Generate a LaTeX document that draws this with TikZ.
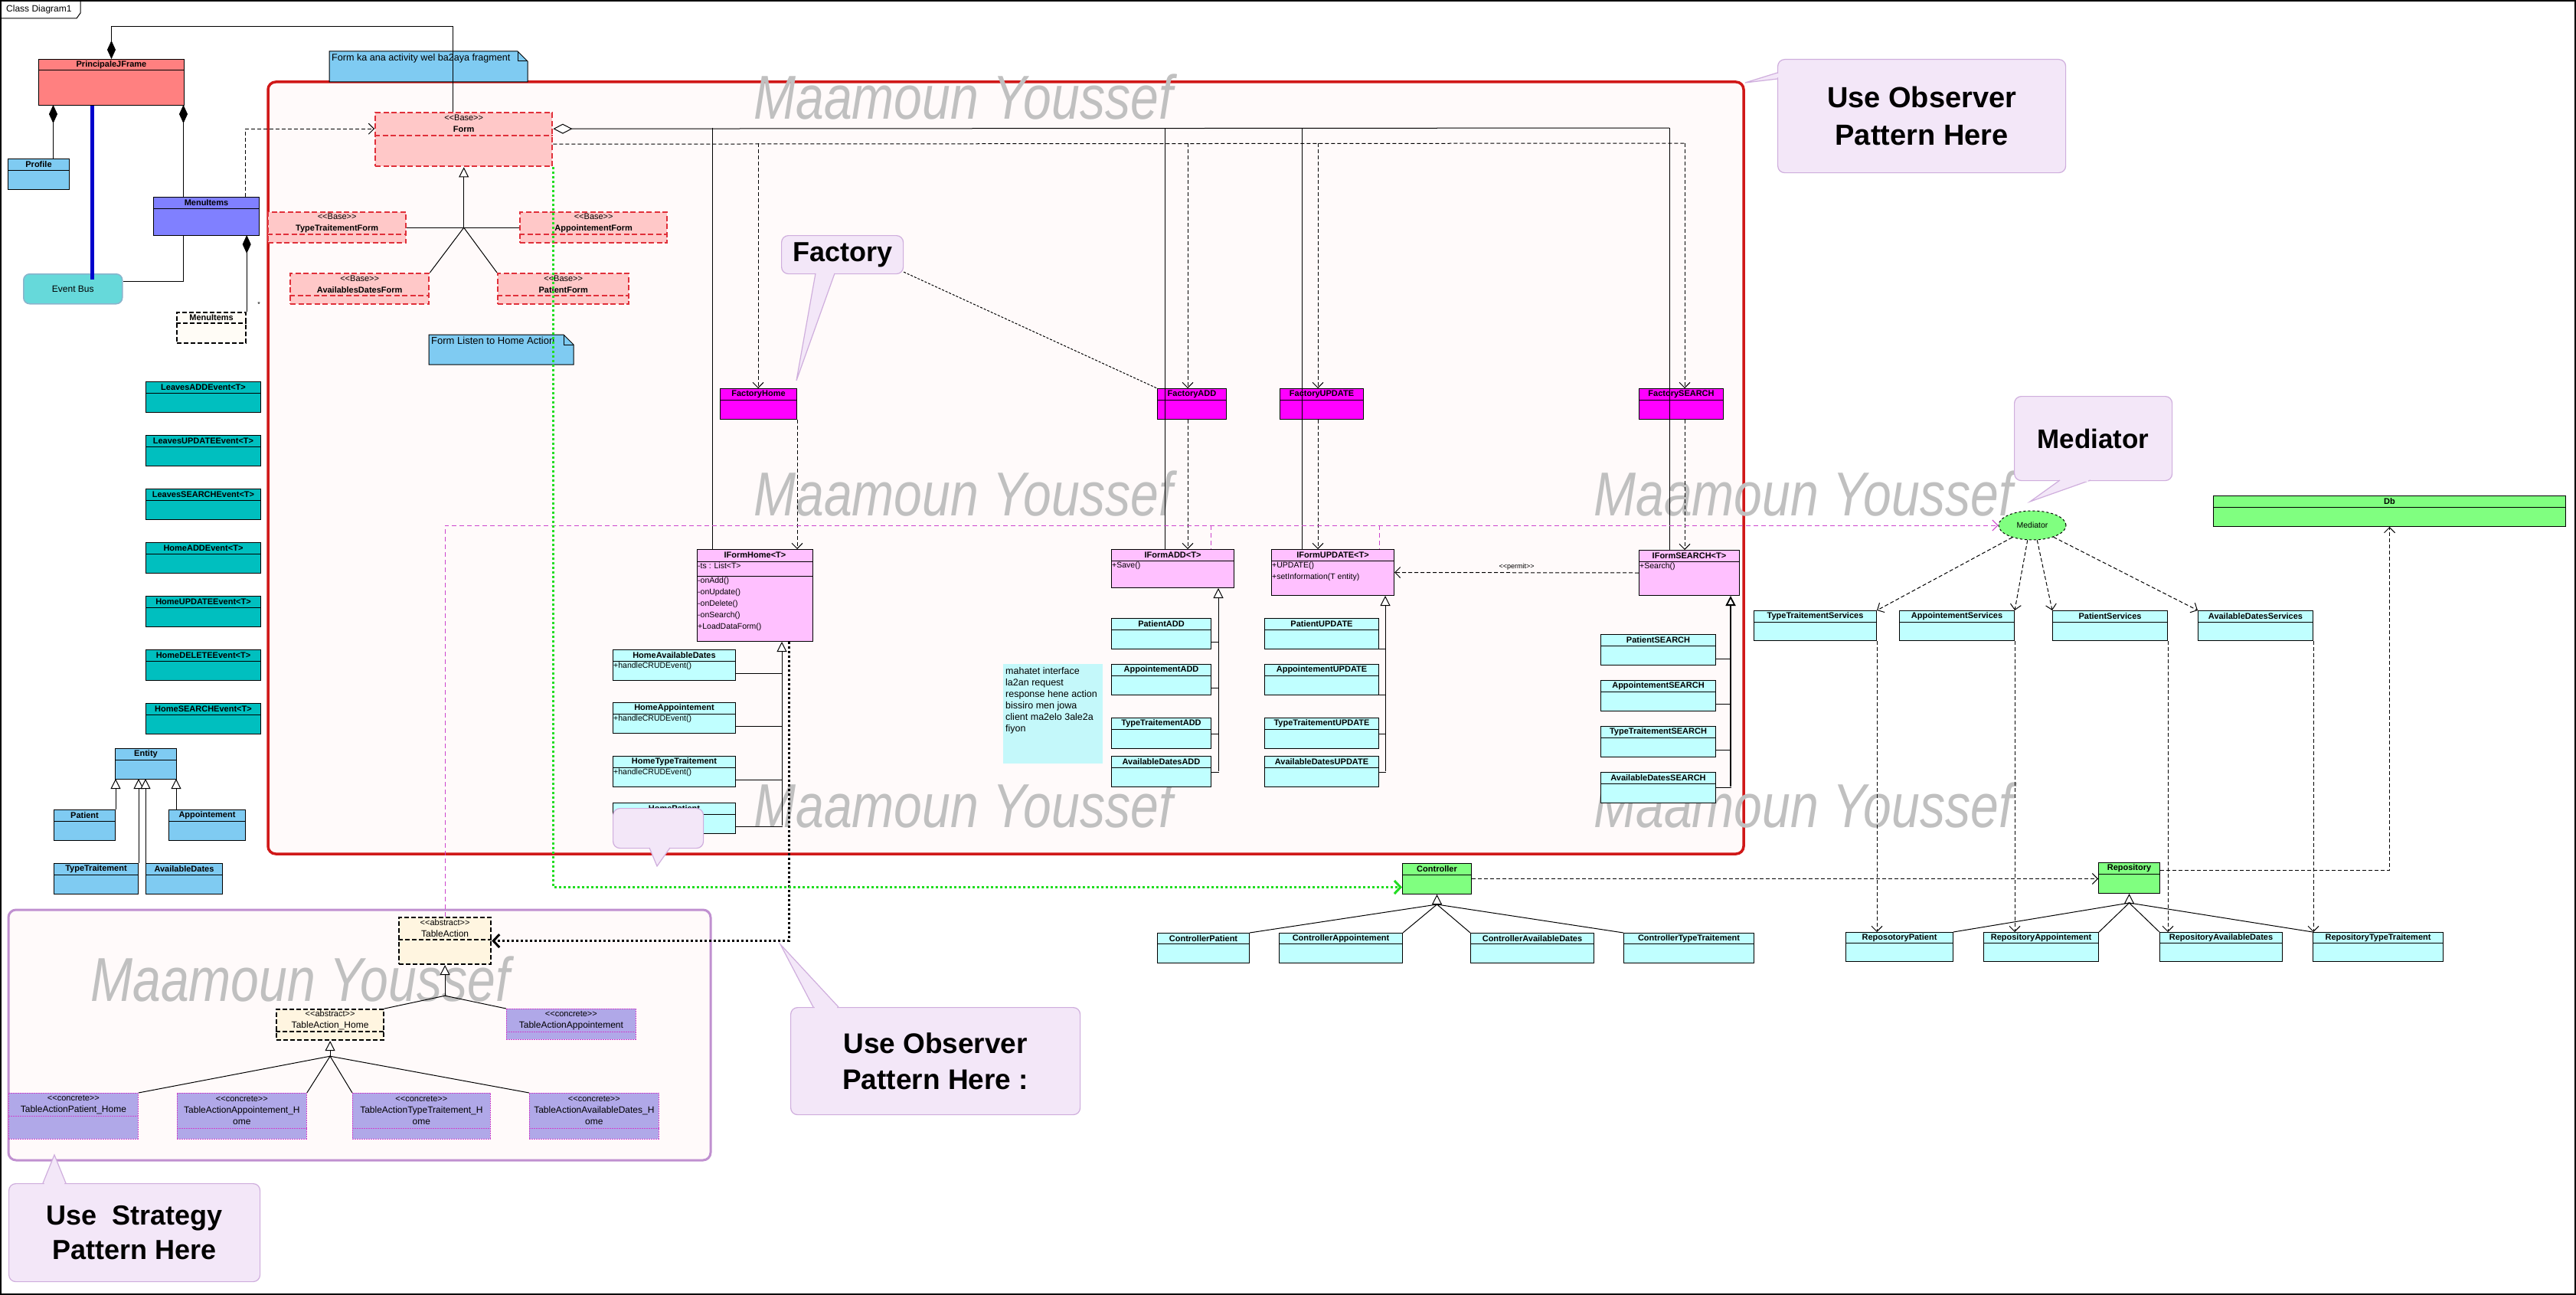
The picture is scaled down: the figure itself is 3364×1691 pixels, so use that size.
\documentclass[tikz,border=0pt]{standalone}
\usepackage{fontspec}
\usepackage{graphicx}
\setmainfont{Liberation Sans}
\usetikzlibrary{arrows.meta}
\usetikzlibrary{shapes.geometric}

\definecolor{pjfred}{HTML}{FF8080}
\definecolor{entblue}{HTML}{7FCBF2}
\definecolor{menublue}{HTML}{8080FF}
\definecolor{busfill}{HTML}{66D9DA}
\definecolor{busborder}{HTML}{8AB4CC}
\definecolor{busblue}{HTML}{0000CC}
\definecolor{evteal}{HTML}{00BFBF}
\definecolor{formpink}{HTML}{FFC8C8}
\definecolor{formred}{HTML}{E0303A}
\definecolor{areared}{HTML}{D01818}
\definecolor{arealilac}{HTML}{C090D0}
\definecolor{areabg}{HTML}{FFFAFA}
\definecolor{factmag}{HTML}{FF00FF}
\definecolor{ipink}{HTML}{FFC0FF}
\definecolor{pcyan}{HTML}{C0FFFF}
\definecolor{notecyan}{HTML}{C4F8FA}
\definecolor{dbgreen}{HTML}{80FF80}
\definecolor{medmag}{HTML}{CC44CC}
\definecolor{dotgreen}{HTML}{22DD22}
\definecolor{abscream}{HTML}{FFF5E0}
\definecolor{conclav}{HTML}{B0A8E8}
\definecolor{concline}{HTML}{CC44CC}
\definecolor{callfill}{HTML}{F3E7F8}
\definecolor{callline}{HTML}{CFAEDD}
\definecolor{wmgray}{HTML}{C0C0C0}
\definecolor{menuwhite}{HTML}{FFFCF6}

\newcommand{\fs}[2]{\fontsize{#1}{#2}\selectfont}
\newcommand{\stereo}[1]{\mdseries\fs{11}{15}<{}<#1>{}>}
\newcommand{\plain}{\mdseries\fs{12}{15}}

\tikzstyle{cls}=[draw, line width=1pt, inner sep=0pt]
\tikzstyle{clsred}=[cls, fill=pjfred]
\tikzstyle{clsblue}=[cls, fill=entblue]
\tikzstyle{clsmenu}=[cls, fill=menublue]
\tikzstyle{clsdash}=[cls, fill=menuwhite, line width=2.2pt, dash pattern=on 6pt off 3pt]
\tikzstyle{clsevent}=[cls, fill=evteal]
\tikzstyle{clsform}=[cls, draw=formred, fill=formpink, line width=2.4pt, dash pattern=on 7pt off 3.5pt]
\tikzstyle{clsmag}=[cls, fill=factmag]
\tikzstyle{clspink}=[cls, fill=ipink]
\tikzstyle{clscyan}=[cls, fill=pcyan]
\tikzstyle{clsgreen}=[cls, fill=dbgreen]
\tikzstyle{clsabs}=[cls, fill=abscream, line width=2.2pt, dash pattern=on 6pt off 3pt]
\tikzstyle{clsconc}=[cls, draw=concline, fill=conclav, line width=0.8pt, dash pattern=on 2pt off 1pt]
\tikzstyle{classname}=[inner sep=0pt, align=center, font=\bfseries\fs{11}{15}]
\tikzstyle{members}=[inner sep=1pt, anchor=north west, align=left, font=\fs{10.5}{15}]
\tikzstyle{notebox}=[draw, line width=1pt, fill=entblue]
\tikzstyle{notetext}=[inner sep=0pt, anchor=north west, align=left, font=\fs{13}{15}]
\tikzstyle{watermark}=[inner sep=0pt, anchor=base, text=wmgray, font=\itshape\fs{81}{81}]
\tikzstyle{callout}=[draw=callline, fill=callfill, line width=1.2pt, rounded corners=9pt, inner sep=0pt, anchor=north west, align=center, font=\bfseries\fs{38}{49}]
\tikzstyle{callptr}=[draw=callline, fill=callfill, line width=1.2pt]
\tikzstyle{link}=[line width=1pt]
\tikzstyle{compo}=[link, -{Diamond[length=24pt,width=11pt]}]
\tikzstyle{aggr}=[link, -{Diamond[open,fill=white,length=25pt,width=13pt]}]
\tikzstyle{dashlink}=[link, dash pattern=on 5pt off 3pt]
\tikzstyle{dep}=[dashlink, -{Straight Barb[length=7pt,width=14pt]}]
\tikzstyle{gen}=[link, -{Triangle[length=13pt,width=13pt,fill=white]}]
\tikzstyle{medline}=[link, draw=medmag, dash pattern=on 6pt off 4pt]
\tikzstyle{meddep}=[medline, -{Straight Barb[length=7pt,width=14pt]}]
\tikzstyle{evline}=[line width=5pt, draw=busblue]
\tikzstyle{greendot}=[line width=3pt, draw=dotgreen, dash pattern=on 3pt off 3pt, -{Straight Barb[length=8pt,width=17pt,line width=3pt]}]
\tikzstyle{blackdot}=[line width=3pt, dash pattern=on 3pt off 3pt, -{Straight Barb[length=8pt,width=17pt,line width=3pt]}]

% class box: [header height] style, name, north west corner, width, height, title
\newcommand{\umlbox}[7][15]{%
  \node[#2, anchor=north west, minimum width=#5pt, minimum height=#6pt] (#3) at #4 {};
  \draw[#2, fill=none] ([yshift=-#1pt]#3.north west) -- ([yshift=-#1pt]#3.north east);
  \node[classname, minimum height=#1pt, anchor=north] (#3-name) at (#3.north) {#7};
}

\begin{document}
\begin{tikzpicture}[x=1pt, y=-1pt]
\useasboundingbox (0,0) rectangle (3364,1691);
\fill[white] (0,0) rectangle (3364,1691);
% diagram frame
\draw[line width=1.5pt] (1,1) rectangle (3363,1690);
\draw[link] (1,24) -- (100,24) -- (105,17) -- (105,1);
\node[inner sep=0pt, anchor=west, font=\fs{12}{14}] (frametitle) at (8,12) {Class Diagram1};

% package areas
\draw[line width=3.5pt, draw=areared, fill=areabg, rounded corners=10pt] (350,107) rectangle (2277,1115);
\draw[line width=3pt, draw=arealilac, fill=areabg, rounded corners=10pt] (11,1188) rectangle (928,1515);

% watermarks
\foreach \wx/\wy [count=\i] in {1258/155, 1258/673, 2355/673, 1258/1080, 2355/1080, 392/1307}
  \node[watermark] (wm\i) at (\wx,\wy) {\scalebox{0.816}[1]{Maamoun Youssef}};

% notes
\draw[notebox] (430,67) -- (676,67) -- (689,80) -- (689,107) -- (430,107) -- cycle;
\draw[link] (676,67) -- (676,80) -- (689,80);
\node[notetext, font=\fs{12.6}{15}] (note1) at (433,70) {Form ka ana activity wel ba2aya fragment};
\draw[notebox] (560,437) -- (736,437) -- (749,450) -- (749,476) -- (560,476) -- cycle;
\draw[link] (736,437) -- (736,450) -- (749,450);
\node[notetext] (note2) at (563,440) {Form Listen to Home Action};
\node[fill=notecyan, inner sep=0pt, anchor=north west, minimum width=130pt, minimum height=130pt] (note3) at (1310,867) {};
\node[notetext, font=\fs{12.5}{15}] (note3text) at (1313,871) {mahatet interface\\la2an request\\response hene action\\bissiro men jowa\\client ma2elo 3ale2a\\fiyon};

% left side
\umlbox{clsred}{pjf}{(50,77)}{190}{60}{PrincipaleJFrame}
\umlbox{clsblue}{profile}{(10,207)}{80}{40}{Profile}
\umlbox{clsmenu}{menu}{(200,257)}{138}{50}{MenuItems}
\umlbox{clsdash}{menusub}{(230,407)}{90}{40}{MenuItems}
\node[draw=busborder, fill=busfill, line width=1.5pt, rounded corners=8pt, anchor=north west,
      minimum width=129pt, minimum height=39pt, font=\fs{12}{14}] (evbus) at (30,357) {Event Bus};
\node[inner sep=0pt, font=\fs{9}{10}] (mult) at (338,397) {*};
\foreach \ev [count=\i from 0] in {LeavesADDEvent, LeavesUPDATEEvent, LeavesSEARCHEvent, HomeADDEvent, HomeUPDATEEvent, HomeDELETEEvent, HomeSEARCHEvent} {
  \umlbox{clsevent}{ev\i}{(190,{498+70*\i})}{150}{40}{\ev<T>}
}
\umlbox{clsblue}{entity}{(150,977)}{80}{40}{Entity}
\umlbox{clsblue}{patient}{(70,1057)}{80}{40}{Patient}
\umlbox{clsblue}{appoint}{(220,1057)}{100}{40}{Appointement}
\umlbox{clsblue}{typetr}{(70,1127)}{110}{40}{TypeTraitement}
\umlbox{clsblue}{avdates}{(190,1127)}{100}{40}{AvailableDates}

% forms
\umlbox[31]{clsform}{form}{(489,146)}{231}{70}{\stereo{Base}\\Form}
\umlbox[30]{clsform}{ttform}{(349,276)}{180}{40}{\stereo{Base}\\TypeTraitementForm}
\umlbox[30]{clsform}{apform}{(678,276)}{192}{40}{\stereo{Base}\\AppointementForm}
\umlbox[30]{clsform}{adform}{(378,356)}{181}{40}{\stereo{Base}\\AvailablesDatesForm}
\umlbox[30]{clsform}{paform}{(649,356)}{171}{40}{\stereo{Base}\\PatientForm}

% factories
\umlbox{clsmag}{fhome}{(940,507)}{100}{40}{FactoryHome}
\umlbox{clsmag}{fadd}{(1511,507)}{90}{40}{FactoryADD}
\umlbox{clsmag}{fupd}{(1671,507)}{109}{40}{FactoryUPDATE}
\umlbox{clsmag}{fsearch}{(2140,507)}{110}{40}{FactorySEARCH}

% form interfaces
\umlbox[16]{clspink}{ihome}{(910,717)}{151}{120}{IFormHome<T>}
\draw[link] ([yshift=-35pt]ihome.north west) -- ([yshift=-35pt]ihome.north east);
\node[members] (ihomeattr) at ([yshift=-17pt]ihome.north west) {-ts : List<T>};
\node[members] (ihomeops) at ([yshift=-36pt]ihome.north west) {-onAdd()\\-onUpdate()\\-onDelete()\\-onSearch()\\+LoadDataForm()};
\umlbox{clspink}{iadd}{(1451,717)}{160}{50}{IFormADD<T>}
\node[members] (iaddops) at ([yshift=-16pt]iadd.north west) {+Save()};
\umlbox{clspink}{iupd}{(1660,717)}{160}{60}{IFormUPDATE<T>}
\node[members] (iupdops) at ([yshift=-16pt]iupd.north west) {+UPDATE()\\+setInformation(T entity)};
\umlbox{clspink}{isearch}{(2140,718)}{131}{59}{IFormSEARCH<T>}
\node[members] (isearchops) at ([yshift=-16pt]isearch.north west) {+Search()};

\foreach \nm/\yy [count=\i] in {HomeAvailableDates/848, HomeAppointement/917, HomeTypeTraitement/987, HomePatient/1048} {
  \umlbox{clscyan}{home\i}{(800,\yy)}{160}{40}{\nm}
  \node[members] (homeop\i) at ([yshift=-16pt]home\i.north west) {+handleCRUDEvent()};
}
\foreach \nm/\yy [count=\i] in {Patient/807, Appointement/867, TypeTraitement/937, AvailableDates/987} {
  \umlbox{clscyan}{add\i}{(1451,\yy)}{130}{40}{\nm ADD}
  \umlbox{clscyan}{upd\i}{(1651,\yy)}{149}{40}{\nm UPDATE}
}
\foreach \nm/\yy [count=\i] in {Patient/828, Appointement/888, TypeTraitement/948, AvailableDates/1008} {
  \umlbox{clscyan}{srch\i}{(2090,\yy)}{150}{40}{\nm SEARCH}
}

% mediator, services, repositories
\node[ellipse, draw, dashed, fill=dbgreen, line width=1pt, inner sep=0pt, minimum width=88pt, minimum height=38pt,
      font=\fs{10.5}{12}] (mediator) at (2654,686) {Mediator};
\foreach \nm/\xx/\ww [count=\i] in {TypeTraitement/2290/160, Appointement/2480/150, Patient/2680/150, AvailableDates/2870/150} {
  \umlbox{clscyan}{srv\i}{(\xx,797)}{\ww}{39}{\nm Services}
}
\foreach \nm/\xx/\ww [count=\i] in {ReposotoryPatient/2410/140, RepositoryAppointement/2590/150, RepositoryAvailableDates/2820/160, RepositoryTypeTraitement/3020/170} {
  \umlbox[14]{clscyan}{rsub\i}{(\xx,1217)}{\ww}{38}{\nm}
}
\umlbox{clsgreen}{repo}{(2740,1126)}{80}{40}{Repository}
\umlbox{clsgreen}{db}{(2890,647)}{460}{40}{Db}
\umlbox{clsgreen}{ctrl}{(1831,1127)}{90}{40}{Controller}
\foreach \nm/\xx/\ww [count=\i] in {Patient/1511/120, Appointement/1670/161, AvailableDates/1920/161, TypeTraitement/2120/170} {
  \umlbox[14]{clscyan}{csub\i}{(\xx,1218)}{\ww}{39}{Controller\nm}
}

% strategy classes
\umlbox[30]{clsabs}{tact}{(520,1197)}{120}{61}{\stereo{abstract}\\\plain TableAction}
\umlbox[30]{clsabs}{tahome}{(360,1317)}{140}{40}{\stereo{abstract}\\\plain TableAction\_Home}
\umlbox[30]{clsconc}{tapp}{(661,1317)}{169}{40}{\stereo{concrete}\\\plain TableActionAppointement}
\umlbox[30]{clsconc}{tpatH}{(11,1427)}{169}{60}{\stereo{concrete}\\\plain TableActionPatient\_Home}
\umlbox[46]{clsconc}{tappH}{(231,1427)}{169}{60}{\stereo{concrete}\\\plain TableActionAppointement\_H\\\plain ome}
\umlbox[46]{clsconc}{ttypH}{(460,1427)}{180}{60}{\stereo{concrete}\\\plain TableActionTypeTraitement\_H\\\plain ome}
\umlbox[46]{clsconc}{tavH}{(691,1427)}{169}{60}{\stereo{concrete}\\\plain TableActionAvailableDates\_H\\\plain ome}

% ---- connectors ----
\draw[compo] ([xshift=-14.5pt]form.north) -- ++(0,-111) -| (pjf.north);
\draw[compo] ([xshift=19pt]profile.north) -- ++(0,-70);
\draw[compo] ([xshift=-30pt]menu.north) -- ++(0,-120);
\draw[evline] ([xshift=70pt]pjf.south west) -- ++(0,227);
\draw[link] ([xshift=-30pt]menu.south) |- ([yshift=10pt]evbus.east);
\draw[compo] (menusub.north east) -- ++(0,-100);
\draw[dep] ([xshift=51pt]menu.north) |- ([yshift=14pt]form.west);

% form aggregates the interfaces
\coordinate (ag1) at (930,167);
\coordinate (ag2) at (1521,167);
\coordinate (ag3) at (1700,167);
\coordinate (ag4) at (2180,167);
\draw[aggr] (ag4) -- ([yshift=14pt]form.east);
\draw[link] (ag1) -- (ag1 |- ihome.north);
\draw[link] (ag2) -- (ag2 |- iadd.north);
\draw[link] (ag3) -- (ag3 |- iupd.north);
\draw[link] (ag4) -- (ag4 |- isearch.north);

% form uses the factories
\coordinate (fd1) at (990,187);
\coordinate (fd2) at (1551,187);
\coordinate (fd3) at (1721,187);
\coordinate (fd4) at (2200,187);
\draw[dashlink] ([yshift=-6pt]form.east) -- (fd4);
\draw[dep] (fd1) -- (fd1 |- fhome.north);
\draw[dep] (fd2) -- (fd2 |- fadd.north);
\draw[dep] (fd3) -- (fd3 |- fupd.north);
\draw[dep] (fd4) -- (fd4 |- fsearch.north);
\draw[dep] (fhome.south east) -- (fhome.south east |- ihome.north);
\draw[dep] (fd2 |- fadd.south) -- (fd2 |- iadd.north);
\draw[dep] (fd3 |- fupd.south) -- (fd3 |- iupd.north);
\draw[dep] (fd4 |- fsearch.south) -- (fd4 |- isearch.north);

% inheritance
\coordinate (gf) at (form.south |- ttform.east);
\draw[gen] (gf) -- (form.south);
\draw[link] (ttform.east) -- (gf) -- (apform.west);
\draw[link] (adform.north east) -- (gf) -- (paform.north west);
\draw[gen] (patient.north east) -- ++(0,-40);
\draw[gen] (typetr.north east) -- ++(0,-110);
\draw[gen] (avdates.north west) -- ++(0,-110);
\draw[gen] ([xshift=10pt]appoint.north west) -- ++(0,-40);

\coordinate (gh) at (1021,1078);
\draw[gen] (gh) -- (gh |- ihome.south);
\foreach \i in {1,...,4} {
  \draw[link] ([yshift=10pt]home\i.south east) -- ++(61,0);
}
\coordinate (ga) at (1591,1007);
\draw[gen] (ga) -- (ga |- iadd.south);
\foreach \i/\off in {1/10, 2/10, 3/20, 4/20} {
  \draw[link] ([yshift=\off pt]add\i.south east) -- ++(10,0);
}
\coordinate (gu) at (1809,1007);
\draw[gen] (gu) -- (gu |- iupd.south);
\foreach \i/\off in {1/1, 2/1, 3/20, 4/20} {
  \draw[link] ([yshift=\off pt]upd\i.south east) -- ++(9,0);
}
\coordinate (gs) at (2260,1027);
\draw[gen, line width=1.8pt] (gs) -- (gs |- isearch.south);
\foreach \i/\off in {1/9, 2/10, 3/10, 4/21} {
  \draw[link] ([yshift=\off pt]srch\i.south east) -- ++(20,0);
}

% mediator links
\draw[meddep] (tact.north) |- (mediator.west);
\coordinate (mg1) at (1581,686);
\coordinate (mg2) at (1801,686);
\draw[medline] (mg1) -- (mg1 |- iadd.north);
\draw[medline] (mg2) -- (mg2 |- iupd.north);
\draw[dep] (isearch.west) -- (iupd.east) node[midway, above=3pt, inner sep=0pt, font=\fs{9}{10}] (permit) {<{}<permit>{}>};
\draw[dep] (mediator.211) -- (srv1.north east);
\draw[dep] (mediator.252) -- (srv2.north east);
\draw[dep] (mediator.288) -- (srv3.north west);
\draw[dep] (mediator.331) -- (srv4.north west);
\draw[dep] (srv1.south east) -- (srv1.south east |- rsub1.north);
\draw[dep] (srv2.south east) -- (srv2.south east |- rsub2.north);
\draw[dep] (srv3.south east) -- (srv3.south east |- rsub3.north);
\draw[dep] (srv4.south east) -- (srv4.south east |- rsub4.north);

% home actions and controller
\draw[blackdot] ([xshift=44.5pt]ihome.south) |- (tact.east);
\draw[greendot] (form.south east) |- ([yshift=-11pt]ctrl.west);
\draw[dep] (ctrl.east) -- (ctrl.east -| repo.west);
\draw[dep] ([yshift=10pt]repo.east) -| (db.south);
\coordinate (gc) at ([yshift=-13pt]ctrl.south);
\draw[gen] (gc) -- (ctrl.south);
\draw[link] (csub1.north east) -- (gc) -- (csub2.north east);
\draw[link] (csub3.north west) -- (gc) -- (csub4.north west);
\coordinate (gr) at ([yshift=-12pt]repo.south);
\draw[gen] (gr) -- (repo.south);
\draw[link] (rsub1.north east) -- (gr) -- (rsub2.north east);
\draw[link] (rsub3.north west) -- (gr) -- (rsub4.north west);

% strategy hierarchy
\coordinate (gt) at ([yshift=-40pt]tact.south);
\draw[gen] (gt) -- (tact.south);
\draw[link] (tahome.north east) -- (gt) -- (tapp.north west);
\coordinate (gth) at ([yshift=-20pt]tahome.south);
\draw[gen] (gth) -- (tahome.south);
\draw[link] (tpatH.north east) -- (gth) -- (tappH.north east);
\draw[link] (ttypH.north west) -- (gth) -- (tavH.north west);

% ---- callouts ----
\node[callout, minimum width=376pt, minimum height=148pt] (c1) at (2321,77) {Use Observer\\Pattern Here};
\filldraw[callptr] (2321,95) -- (2279,108) -- (2321,103);
\fill[callfill] (2319.5,96.5) rectangle (2323,101.5);
\node[callout, font=\bfseries\fs{35}{40}, minimum width=206pt, minimum height=110pt] (c2) at (2630,517) {Mediator};
\filldraw[callptr] (2690,627) -- (2651,655) -- (2730,627);
\fill[callfill] (2693,625.5) rectangle (2727,628.5);
\node[callout, font=\bfseries\fs{36}{40}, minimum width=159pt, minimum height=50pt] (c3) at (1020,307) {Factory};
\filldraw[callptr] (1065,357) -- (1040,497) -- (1090,357);
\fill[callfill] (1067,355.5) rectangle (1088,358.5);
\draw[link, dash pattern=on 3pt off 2pt] ([yshift=3pt]c3.south east) -- (fadd.north west);
\node[callout, font=\bfseries\fs{37}{47}, minimum width=378pt, minimum height=140pt] (c4) at (1032,1315) {Use Observer\\Pattern Here :};
\filldraw[callptr] (1062,1315) -- (1019,1233) -- (1095,1315);
\fill[callfill] (1064,1313.5) rectangle (1093,1316.5);
\node[callout, font=\bfseries\fs{36}{45}, minimum width=328pt, minimum height=128pt] (c5) at (11,1545) {Use\ \ Strategy\\Pattern Here};
\filldraw[callptr] (56,1545) -- (71,1508) -- (86,1545);
\fill[callfill] (58,1543.5) rectangle (84,1546.5);
\node[callout, minimum width=118pt, minimum height=52pt] (c6) at (800,1055) {};
\filldraw[callptr] (848,1107) -- (858,1131) -- (875,1107);
\fill[callfill] (850,1105.5) rectangle (873,1108.5);
\end{tikzpicture}
\end{document}
